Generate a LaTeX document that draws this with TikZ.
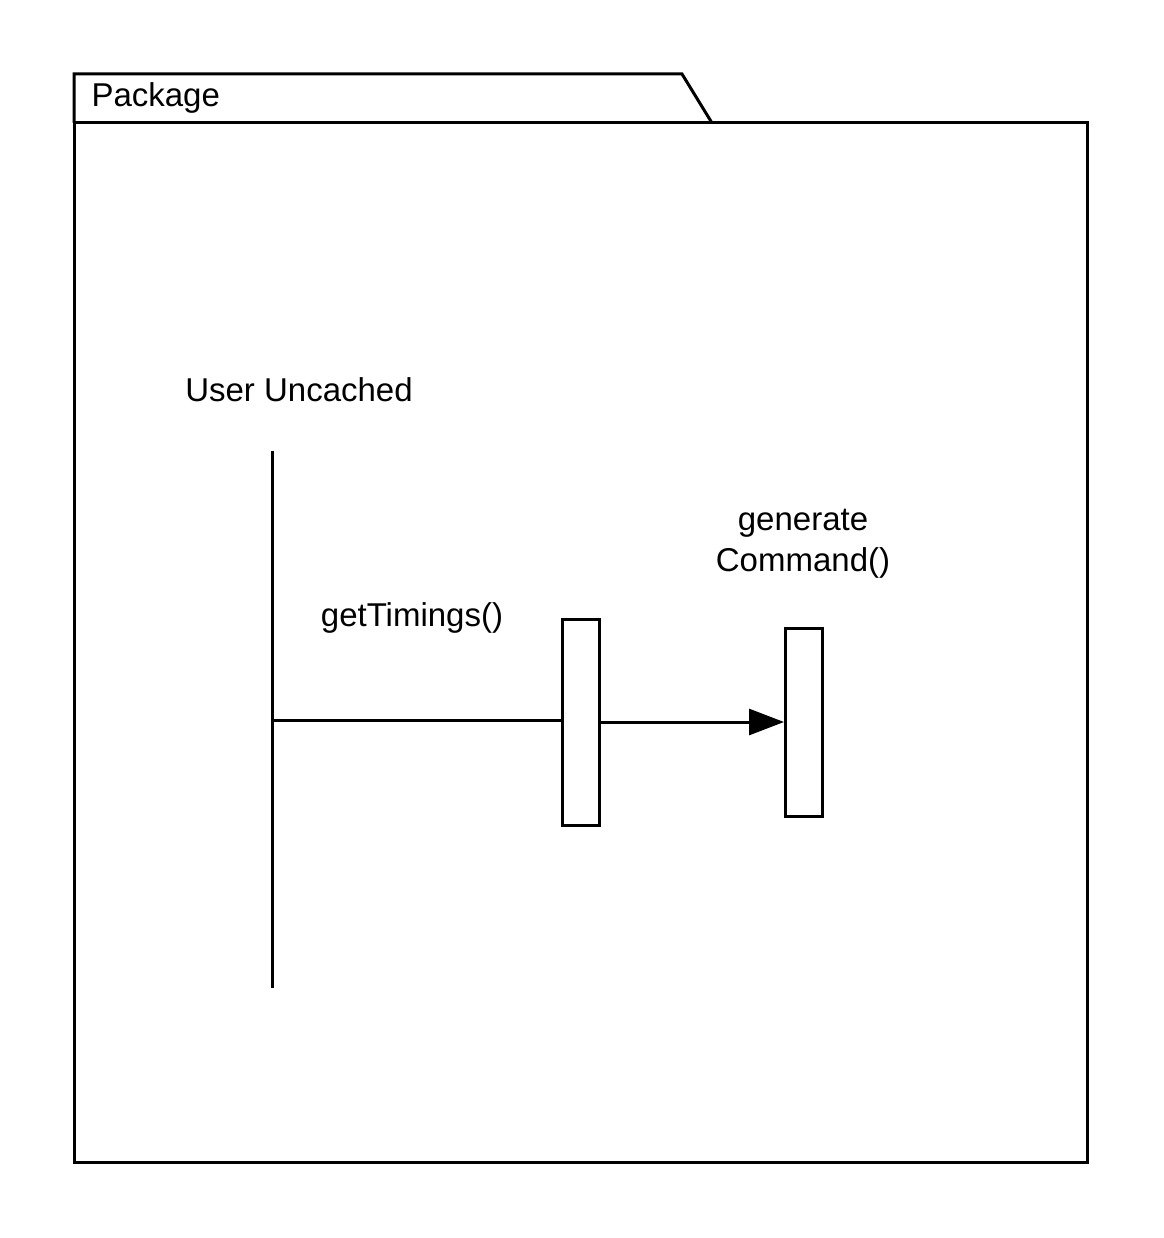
\documentclass[tikz,border=0pt]{standalone}
\usepackage{fontspec}
\setmainfont{Liberation Sans}
\usetikzlibrary{arrows.meta}
\begin{document}
\begin{tikzpicture}[x=1pt,y=-1pt,line width=3pt,
  lbl/.style={font=\fontsize{33}{41}\selectfont,inner sep=0pt},
  actbox/.style={draw,fill=white,minimum width=37pt,inner sep=0pt}]
\useasboundingbox (0,0) rectangle (1163,1238);
% package frame
\draw (74,123) -- (74,74) -- (682,74) -- (712,123);
\draw (74,123) rectangle (1087,1162);
\node[lbl,anchor=base west] (pkg) at (90,107) {Package};
% lifeline
\coordinate (lt) at (272,451);
\coordinate (lb) at (272,988);
\coordinate (lm) at (272,720);
\draw (lt) -- (lb);
\node[lbl,anchor=base] (user) at (299,401) {User Uncached};
% activation boxes
\node[actbox,minimum height=206pt] (b1) at (580.5,722) {};
\node[actbox,minimum height=188pt] (b2) at (804,722) {};
\draw (lm) -- (lm -| b1.west);
\draw[-{Triangle[length=35pt,width=26pt]}] (b1.east) -- (b2.west);
\node[lbl,anchor=base] (gt) at (412,626) {getTimings()};
\node[lbl,anchor=base,align=center] (gc) at (803,571) {generate\\Command()};
\end{tikzpicture}
\end{document}
